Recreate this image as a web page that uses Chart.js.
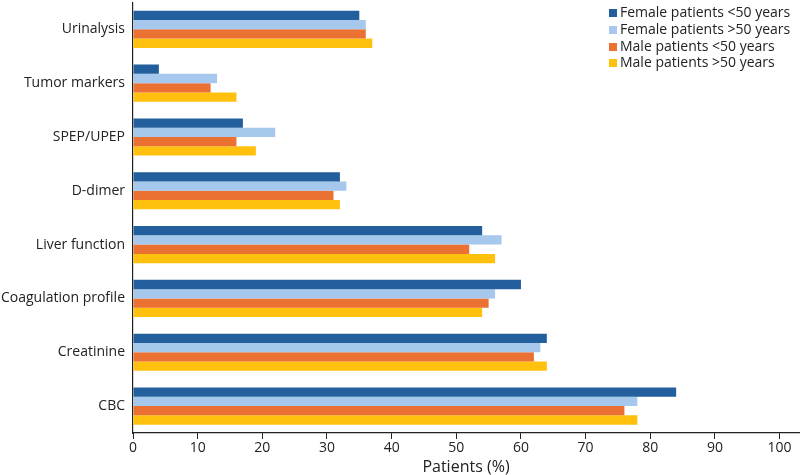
<!DOCTYPE html>
<html>
<head>
<meta charset="utf-8">
<script src="https://cdn.jsdelivr.net/npm/chart.js@4"></script>
<style>
  body { margin: 0; background: #fff; }
  #wrap { position: relative; width: 800px; height: 475px; overflow: hidden; }
  #chart { position: absolute; left: 0; top: -14px; }
  #legend { position: absolute; left: 609px; top: 4px; font-family: "Open Sans", sans-serif; font-size: 14px; color: #222; line-height: 16.8px; }
  #legend span.box { display: inline-block; width: 8px; height: 8px; margin-right: 3px; vertical-align: 0px; }
</style>
</head>
<body>
<div id="wrap">
  <canvas id="chart" width="800" height="491"></canvas>
  <div id="legend"></div>
</div>
<script>
const categories = ["Urinalysis", "Tumor markers", "SPEP/UPEP", "D-dimer", "Liver function", "Coagulation profile", "Creatinine", "CBC"];
const seriesNames = ["Female patients <50 years", "Female patients >50 years", "Male patients <50 years", "Male patients >50 years"];
const femaleUnder50 = [35, 4, 17, 32, 54, 60, 64, 84];
const femaleOver50 = [36, 13, 22, 33, 57, 56, 63, 78];
const maleUnder50 = [36, 12, 16, 31, 52, 55, 62, 76];
const maleOver50 = [37, 16, 19, 32, 56, 54, 64, 78];
const colors = ["#225f9c", "#a6c8ec", "#eb7133", "#ffc10e"];

const allSeries = [femaleUnder50, femaleOver50, maleUnder50, maleOver50];
const datasets = allSeries.map((d, i) => ({
  label: seriesNames[i],
  data: d,
  backgroundColor: colors[i],
  barPercentage: 1.0,
  categoryPercentage: 0.69
}));

// legend as html, top right over the plot
const legend = document.getElementById('legend');
seriesNames.forEach((name, i) => {
  const row = document.createElement('div');
  const box = document.createElement('span');
  box.className = 'box';
  box.style.background = colors[i];
  row.appendChild(box);
  row.appendChild(document.createTextNode(name));
  legend.appendChild(row);
});

new Chart(document.getElementById('chart').getContext('2d'), {
  type: 'bar',
  data: { labels: categories, datasets: datasets },
  options: {
    indexAxis: 'y',
    responsive: false,
    animation: false,
    layout: { padding: { top: 0, right: 1, bottom: 0, left: 0 } },
    plugins: { legend: { display: false }, tooltip: { enabled: false } },
    scales: {
      x: {
        min: 0,
        max: 103,
        border: { color: '#222', width: 1.2 },
        grid: { drawOnChartArea: false, tickLength: 6, color: '#222' },
        ticks: {
          stepSize: 10,
          includeBounds: false,
          color: '#222',
          padding: 1,
          font: { family: 'Open Sans', size: 14 }
        },
        title: {
          display: true,
          text: 'Patients (%)',
          color: '#222',
          padding: { top: 0, bottom: 0 },
          font: { family: 'Open Sans', size: 16 }
        }
      },
      y: {
        border: { color: '#222', width: 1.2 },
        grid: { display: false, drawTicks: false },
        ticks: {
          color: '#222',
          padding: 8,
          font: { family: 'Open Sans', size: 14 }
        },
        afterFit: function(axis) { axis.width = 133; }
      }
    }
  }
});
</script>
</body>
</html>
